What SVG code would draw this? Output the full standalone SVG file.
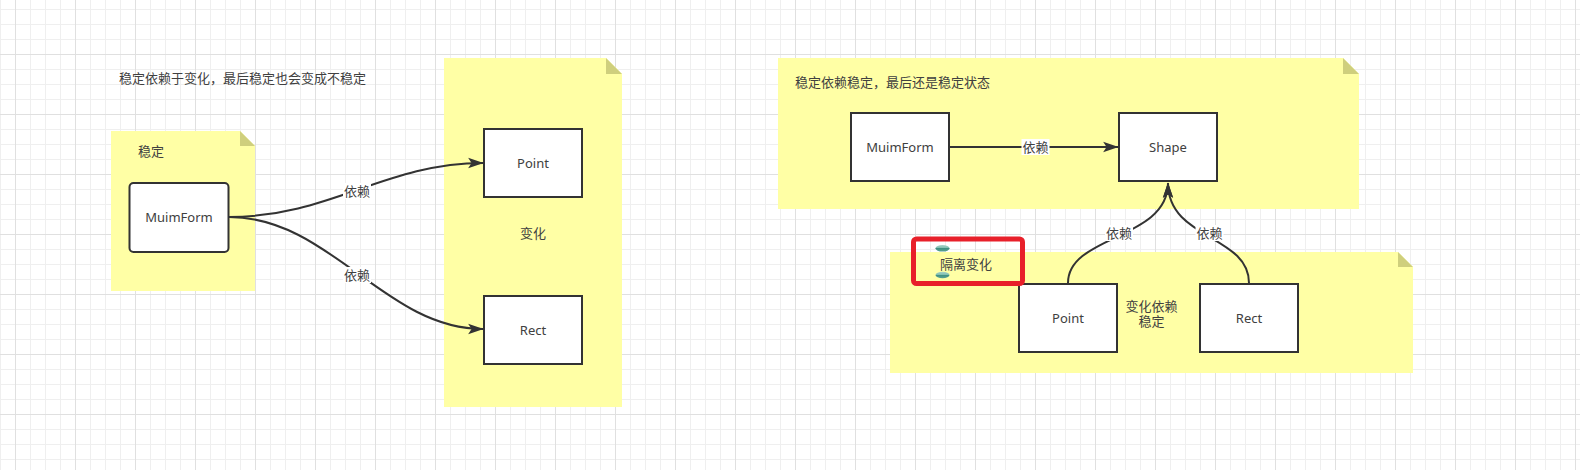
<svg xmlns="http://www.w3.org/2000/svg" width="1580" height="470" viewBox="0 0 1580 470">
<style>
.t{font-family:"Noto Sans","Noto Sans CJK SC",sans-serif;font-size:13px;fill:#404040;}
.c{text-anchor:middle;dominant-baseline:central;}
.l{dominant-baseline:central;}
.box{fill:#fff;stroke:#333;stroke-width:2;}
.note{fill:#ffffa5;}
.fold{fill:#cfcf7d;}
.edge{fill:none;stroke:#333;stroke-width:2;}
.lbg{fill:#fff;}
</style>
<defs>
<pattern id="minor" width="15" height="15" x="0" y="9" patternUnits="userSpaceOnUse">
<path d="M0 0.5H15M0.5 0V15" stroke="#efefef" stroke-width="1" fill="none"/>
</pattern>
<pattern id="major" width="60" height="60" x="15" y="54" patternUnits="userSpaceOnUse">
<path d="M0 0.5H60M0.5 0V60" stroke="#e0e0e0" stroke-width="1" fill="none"/>
</pattern>
<marker id="arr" markerUnits="userSpaceOnUse" markerWidth="16" markerHeight="12" viewBox="0 0 14 10" refX="13" refY="5" orient="auto">
<path d="M0,0.5 L13.5,5 L0,9.5 L3,5 Z" fill="#333"/>
</marker>
<linearGradient id="tg" x1="0" y1="0" x2="0" y2="1">
<stop offset="0" stop-color="#a9d4c9"/>
<stop offset="0.5" stop-color="#7bbcae"/>
<stop offset="0.5" stop-color="#3f8f80"/>
<stop offset="1" stop-color="#5aa394"/>
</linearGradient>
</defs>
<rect width="1580" height="470" fill="#fff"/>
<rect width="1580" height="470" fill="url(#minor)"/>
<rect width="1580" height="470" fill="url(#major)"/>

<g id="title-left">
<text class="t l" x="119" y="78">稳定依赖于变化，最后稳定也会变成不稳定</text>
</g>

<g id="note-stable">
<path class="note" d="M111 131H240L255 146V291H111Z"/>
<path class="fold" d="M240 131V146H255Z"/>
<text class="t l" x="138" y="151">稳定</text>
</g>

<g id="note-change">
<path class="note" d="M444 58H606L622 74V407H444Z"/>
<path class="fold" d="M606 58V74H622Z"/>
<text class="t c" x="533" y="233">变化</text>
</g>

<g id="note-top-right">
<path class="note" d="M778 58H1343L1359 74V209H778Z"/>
<path class="fold" d="M1343 58V74H1359Z"/>
<text class="t l" x="795" y="82">稳定依赖稳定，最后还是稳定状态</text>
</g>

<g id="note-bottom-right">
<path class="note" d="M890 252H1398L1413 267V373H890Z"/>
<path class="fold" d="M1398 252V267H1413Z"/>
<text class="t c" x="1151.5" y="306">变化依赖</text>
<text class="t c" x="1151.5" y="321">稳定</text>
</g>

<g id="muimform-left">
<rect class="box" x="129.5" y="183" width="99" height="69" rx="4"/>
<text class="t c" x="179" y="217">MuimForm</text>
</g>
<g id="point-left">
<rect class="box" x="484" y="129" width="98" height="68"/>
<text class="t c" x="533" y="163">Point</text>
</g>
<g id="rect-left">
<rect class="box" x="484" y="296" width="98" height="68"/>
<text class="t c" x="533" y="330">Rect</text>
</g>

<g id="muimform-right">
<rect class="box" x="851" y="113" width="98" height="68"/>
<text class="t c" x="900" y="147">MuimForm</text>
</g>
<g id="shape">
<rect class="box" x="1119" y="113" width="98" height="68"/>
<text class="t c" x="1168" y="147">Shape</text>
</g>
<g id="point-right">
<rect class="box" x="1019" y="284" width="98" height="68"/>
<text class="t c" x="1068" y="318">Point</text>
</g>
<g id="rect-right">
<rect class="box" x="1200" y="284" width="98" height="68"/>
<text class="t c" x="1249" y="318">Rect</text>
</g>

<g id="isolate-change">
<rect x="913.5" y="239" width="109" height="44.5" rx="3" fill="none" stroke="#e8202a" stroke-width="5"/>
<ellipse cx="942.5" cy="248.3" rx="7" ry="3.3" fill="url(#tg)"/>
<ellipse cx="942.5" cy="275" rx="7" ry="3.3" fill="url(#tg)"/>
<text class="t l" x="940" y="264">隔离变化</text>
</g>

<g id="connectors">
<path class="edge" d="M229 217C330 217 385 163 483 163" marker-end="url(#arr)"/>
<path class="edge" d="M229 217C330 217 385 329 483 329" marker-end="url(#arr)"/>
<path class="edge" d="M950 147H1118" marker-end="url(#arr)"/>
<path class="edge" d="M1068 283C1068 235 1168 240 1168 183" marker-end="url(#arr)"/>
<path class="edge" d="M1249 283C1249 235 1168 240 1168 183" marker-end="url(#arr)"/>
<rect class="lbg" x="343" y="183" width="28" height="16"/>
<text class="t c" x="357" y="191">依赖</text>
<rect class="lbg" x="343" y="267" width="28" height="16"/>
<text class="t c" x="357" y="275">依赖</text>
<rect class="lbg" x="1021.5" y="139" width="28" height="16"/>
<text class="t c" x="1035.5" y="147">依赖</text>
<rect class="lbg" x="1105" y="225" width="28" height="16"/>
<text class="t c" x="1119" y="233">依赖</text>
<rect class="lbg" x="1195.5" y="225" width="28" height="16"/>
<text class="t c" x="1209.5" y="233">依赖</text>
</g>
</svg>
